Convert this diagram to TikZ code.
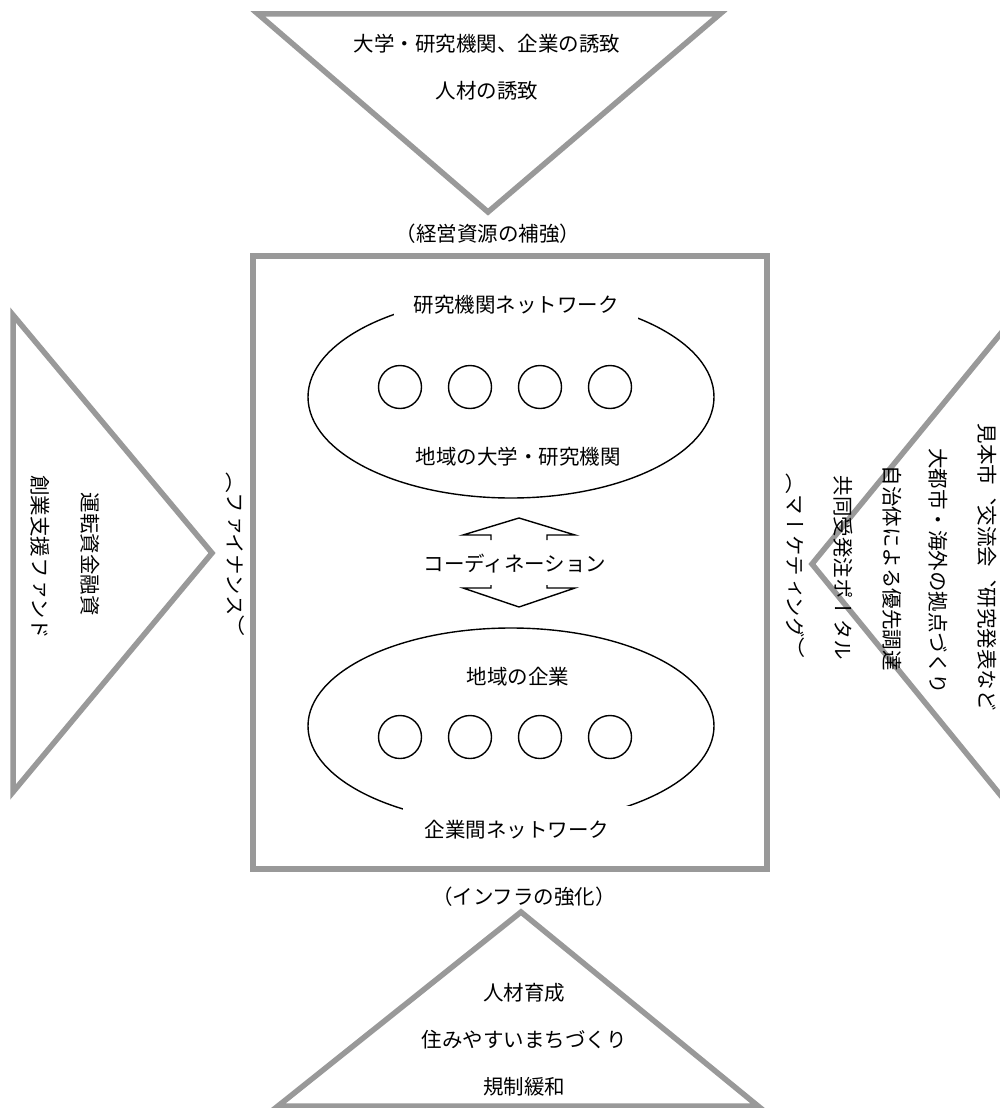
\documentclass[tikz,border=0pt]{standalone}
\usepackage{fontspec}
\newfontfamily\jp{Noto Sans CJK JP}
\newfontfamily\jpv[Vertical=RotatedGlyphs,RawFeature=+vert]{Noto Sans CJK JP}
\definecolor{framegray}{RGB}{153,153,153}
\begin{document}
\begin{tikzpicture}[x=1pt,y=-1pt,
  frame/.style={draw=framegray,line width=5.5pt,line join=miter},
  thin/.style={draw=black,line width=1.4pt},
  htext/.style={font=\jp\fontsize{20.5}{24}\selectfont,inner sep=0pt},
  vtext/.style={font=\jpv\fontsize{20.5}{24}\selectfont,inner sep=0pt,rotate=-90},
  dot/.style={circle,draw=black,line width=1.4pt,minimum size=43pt,inner sep=0pt}]
\useasboundingbox (0,0) rectangle (999,1108);
\fill[white] (0,0) rectangle (999,1108);

% top triangle
\coordinate (t1) at (258,14); \coordinate (t2) at (720,14); \coordinate (t3) at (488,212);
\draw[frame] (t1) -- (t2) -- (t3) -- cycle;
\node[htext] (top1) at (487,44) {大学・研究機関、企業の誘致};
\node[htext] (top2) at (487,91) {人材の誘致};
\node[htext] (keiei) at (488,234) {（経営資源の補強）};

% left triangle
\coordinate (l1) at (13,315); \coordinate (l2) at (212,553); \coordinate (l3) at (13,792);
\draw[frame] (l1) -- (l2) -- (l3) -- cycle;
\node[vtext] (sogyo) at (40,557) {創業支援ファンド};
\node[vtext] (unten) at (90,554) {運転資金融資};
\node[vtext] (finance) at (235,554) {（ファイナンス）};

% right triangle
\coordinate (r1) at (1011,321); \coordinate (r2) at (812,564); \coordinate (r3) at (1011,808);
\draw[frame] (r1) -- (r2) -- (r3) -- cycle;
\node[vtext] (mihon) at (987,567) {見本市、交流会、研究発表など};
\node[vtext] (daitoshi) at (938,571) {大都市・海外の拠点づくり};
\node[vtext] (jichitai) at (892,568) {自治体による優先調達};
\node[vtext] (kyodo) at (843,568) {共同受発注ポータル};
\node[vtext] (marketing) at (795,566) {（マーケティング）};

% bottom triangle
\coordinate (b1) at (521,912); \coordinate (b2) at (758,1106); \coordinate (b3) at (278,1106);
\draw[frame] (b1) -- (b2) -- (b3) -- cycle;
\node[htext] (infra) at (524,897) {（インフラの強化）};
\node[htext] (jinzai) at (524,993) {人材育成};
\node[htext] (sumi) at (524,1040) {住みやすいまちづくり};
\node[htext] (kisei) at (524,1087) {規制緩和};

% upper ellipse
\draw[thin] (511,397) ellipse [x radius=203, y radius=101];
\node[htext,fill=white,minimum width=244pt,minimum height=28pt] (rnet) at (516,305) {研究機関ネットワーク};
\foreach \i/\x in {1/400,2/470,3/540,4/610} \node[dot] (u\i) at (\x,387) {};
\node[htext] (univ) at (518,457) {地域の大学・研究機関};

% lower ellipse
\draw[thin] (511,726) ellipse [x radius=203, y radius=98];
\node[htext,fill=white,minimum width=228pt,minimum height=48pt] (cnet) at (517,830) {企業間ネットワーク};
\foreach \i/\x in {1/400,2/470,3/540,4/610} \node[dot] (c\i) at (\x,737) {};
\node[htext] (kigyo) at (518,677) {地域の企業};

% coordination double arrow
\coordinate (au) at (519,518); \coordinate (ad) at (519,607);
\draw[thin,line join=miter] (491,540) -- (491,535) -- (463,535) -- (au) -- (575,535) -- (547,535) -- (547,540);
\draw[thin,line join=miter] (491,585) -- (491,588) -- (463,588) -- (ad) -- (575,588) -- (547,588) -- (547,585);
\node[htext] (coord) at (515,564) {コーディネーション};

% main frame
\draw[frame] (253,256) rectangle (767,869);
\end{tikzpicture}
\end{document}
